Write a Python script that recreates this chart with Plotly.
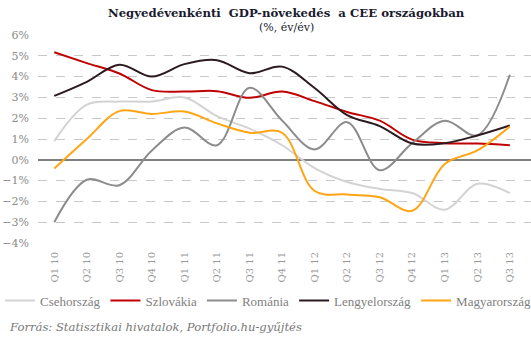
import plotly.graph_objects as go

categories = ["Q1 10", "Q2 10", "Q3 10", "Q4 10", "Q1 11", "Q2 11", "Q3 11", "Q4 11",
              "Q1 12", "Q2 12", "Q3 12", "Q4 12", "Q1 13", "Q2 13", "Q3 13"]

csehorszag = [0.9, 2.65, 2.8, 2.8, 3.0, 2.1, 1.5, 0.7, -0.4, -1.07, -1.4, -1.6, -2.4, -1.15, -1.6]
szlovakia = [5.17, 4.65, 4.15, 3.35, 3.28, 3.3, 2.98, 3.28, 2.82, 2.3, 1.88, 0.97, 0.8, 0.78, 0.7]
romania = [-3.0, -0.96, -1.22, 0.45, 1.55, 0.7, 3.46, 1.89, 0.5, 1.81, -0.5, 0.8, 1.88, 1.18, 4.09]
lengyelorszag = [3.07, 3.75, 4.57, 4.0, 4.6, 4.79, 4.16, 4.48, 3.45, 2.15, 1.62, 0.78, 0.8, 1.17, 1.65]
magyarorszag = [-0.42, 1.0, 2.34, 2.2, 2.32, 1.75, 1.3, 1.3, -1.5, -1.67, -1.8, -2.45, -0.2, 0.45, 1.6]

series = [
    ("Csehország", csehorszag, "#d3d3d3"),
    ("Szlovákia", szlovakia, "#c00000"),
    ("Románia", romania, "#8c8c8c"),
    ("Lengyelország", lengyelorszag, "#2b1a20"),
    ("Magyarország", magyarorszag, "#ffa514"),
]

FONT = "DejaVu Serif"

fig = go.Figure()
for name, vals, color in series:
    fig.add_trace(go.Scatter(
        x=categories, y=vals, name=name, mode="lines",
        line=dict(color=color, width=2, shape="spline", smoothing=1.0),
    ))

fig.update_layout(
    width=531, height=342,
    margin=dict(l=38, r=0, t=35, b=99),
    paper_bgcolor="white", plot_bgcolor="white",
    font=dict(family=FONT, color="#888888"),
    showlegend=True,
    legend=dict(orientation="h", x=-0.06, xanchor="left", y=-0.277, yanchor="middle",
                font=dict(size=13, color="#808080", family="Liberation Serif"),
                itemwidth=30, tracegroupgap=0, bgcolor="rgba(0,0,0,0)"),
    annotations=[
        dict(text="<b>Negyedévenkénti  GDP-növekedés  a CEE országokban</b>",
             xref="paper", yref="paper", x=0.505, y=1.108, xanchor="center", yanchor="middle",
             showarrow=False, font=dict(size=11.7, color="#1a1a2e", family=FONT)),
        dict(text="(%, év/év)",
             xref="paper", yref="paper", x=0.505, y=1.036, xanchor="center", yanchor="middle",
             showarrow=False, font=dict(size=11, color="#1a1a2e", family=FONT)),
        dict(text="<i>Forrás: Statisztikai hivatalok, Portfolio.hu-gyűjtés</i>",
             xref="paper", yref="paper", x=-0.063, y=-0.406, xanchor="left", yanchor="middle",
             showarrow=False, font=dict(size=11.6, color="#777777", family=FONT)),
    ],
)

fig.update_xaxes(
    type="category", range=[-0.5, 14.65],
    showgrid=False, zeroline=False, showline=False,
    tickangle=-90, tickfont=dict(size=10, color="#999999"),
    ticks="", ticklabelstandoff=6,
)
fig.update_yaxes(
    range=[-4, 6], dtick=1, ticksuffix="%",
    showgrid=True, gridcolor="#c8c8c8", griddash="dash", gridwidth=1,
    zeroline=True, zerolinecolor="#808080", zerolinewidth=1.5,
    showline=False, tickfont=dict(size=11, color="#8a8a8a"),
    ticks="", ticklabelstandoff=8,
)

fig.write_html("out.html")
